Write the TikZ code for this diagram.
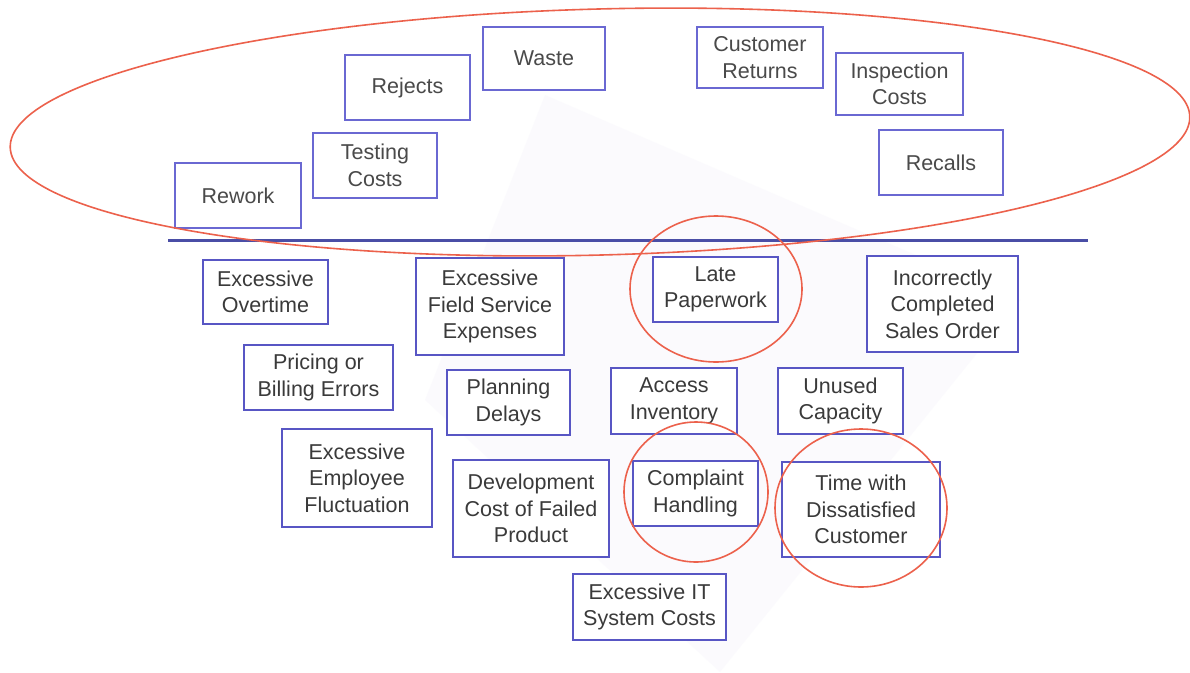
\documentclass[tikz,border=0pt]{standalone}
\usepackage{fontspec}
\setmainfont{Liberation Sans}
\definecolor{boxblue}{HTML}{6A68D2}
\definecolor{lowblue}{HTML}{5856C4}
\definecolor{linblue}{HTML}{4A4EA6}
\definecolor{ringred}{HTML}{EC614C}
\definecolor{txt}{HTML}{3A3A3A}
\definecolor{toptxt}{HTML}{4A4A4A}
\definecolor{haze}{HTML}{F3F1FB}
\begin{document}
\begin{tikzpicture}[x=1pt,y=-1pt,
  item/.style={draw=lowblue, line width=1.5pt, fill=white, text=txt,
    align=center, inner sep=0pt,
    font=\fontsize{21.5}{26.5}\selectfont},
  topitem/.style={item, draw=boxblue, text=toptxt},
  ring/.style={draw=ringred, line width=1.6pt},
  divider/.style={draw=linblue, line width=3pt}]
% page frame
\useasboundingbox (0,0) rectangle (1190,672);
\fill[white] (0,0) rectangle (1190,672);
% faint backdrop shape
\fill[haze, opacity=0.3] (545,95) -- (1020,300) -- (720,672) -- (425,400) -- cycle;

% cost items above the waterline
\node[topitem, minimum width=126pt, minimum height=65pt] (rework)   at (238,195.5)   {Rework};
\node[topitem, minimum width=124pt, minimum height=65pt] (testing)  at (375,165.5)   {Testing\\Costs};
\node[topitem, minimum width=125pt, minimum height=65pt] (rejects)  at (407.5,87.5)  {Rejects};
\node[topitem, minimum width=122pt, minimum height=63pt] (waste)    at (544,58.5)    {Waste};
\node[topitem, minimum width=126pt, minimum height=61pt] (returns)  at (760,57.5)    {Customer\\Returns};
\node[topitem, minimum width=127pt, minimum height=62pt] (inspect)  at (899.5,84)    {Inspection\\Costs};
\node[topitem, minimum width=124pt, minimum height=65pt] (recalls)  at (941,162.5)   {Recalls};

% waterline
\coordinate (wl) at (168,240);
\coordinate (wr) at (1088,240);
\draw[divider] (wl) -- (wr);

% hidden cost items below the waterline
\node[item, minimum width=125pt, minimum height=64pt] (overtime)  at (265.5,292)   {Excessive\\Overtime};
\node[item, minimum width=148pt, minimum height=97pt] (field)     at (490,306.5)   {Excessive\\Field Service\\Expenses};
\node[item, minimum width=125pt, minimum height=65pt] (late)      at (715.5,289.5) {Late\\Paperwork};
\node[item, minimum width=151pt, minimum height=96pt] (incorrect) at (942.5,304)   {Incorrectly\\Completed\\Sales Order};
\node[item, minimum width=149pt, minimum height=65pt] (pricing)   at (318.5,377.5) {Pricing or\\Billing Errors};
\node[item, minimum width=123pt, minimum height=65pt] (planning)  at (508.5,402.5) {Planning\\Delays};
\node[item, minimum width=126pt, minimum height=66pt] (access)    at (674,401)     {Access\\Inventory};
\node[item, minimum width=125pt, minimum height=66pt] (unused)    at (840.5,401)   {Unused\\Capacity};
\node[item, minimum width=150pt, minimum height=98pt] (employee)  at (357,478)     {Excessive\\Employee\\Fluctuation};
\node[item, minimum width=156pt, minimum height=97pt] (develop)   at (531,508.5)   {Development\\Cost of Failed\\Product};
\node[item, minimum width=125pt, minimum height=65pt] (complaint) at (695.5,493.5) {Complaint\\Handling};
\node[item, minimum width=158pt, minimum height=95pt] (dissat)    at (861,509.5)   {Time with\\Dissatisfied\\Customer};
\node[item, minimum width=153pt, minimum height=66pt] (itcost)    at (649.5,607)   {Excessive IT\\System Costs};

% highlight rings
\draw[ring] (late.center) ++(0.5,-0.5) ellipse [x radius=86, y radius=73];
\draw[ring] (complaint.center) ++(0.5,-1.5) ellipse [x radius=72, y radius=70];
\draw[ring] (dissat.center) ++(0,-1.5) ellipse [x radius=86, y radius=79];
\draw[ring, rotate around={1.5:(600,132)}] (600,132) ellipse [x radius=590, y radius=123];
\end{tikzpicture}
\end{document}
